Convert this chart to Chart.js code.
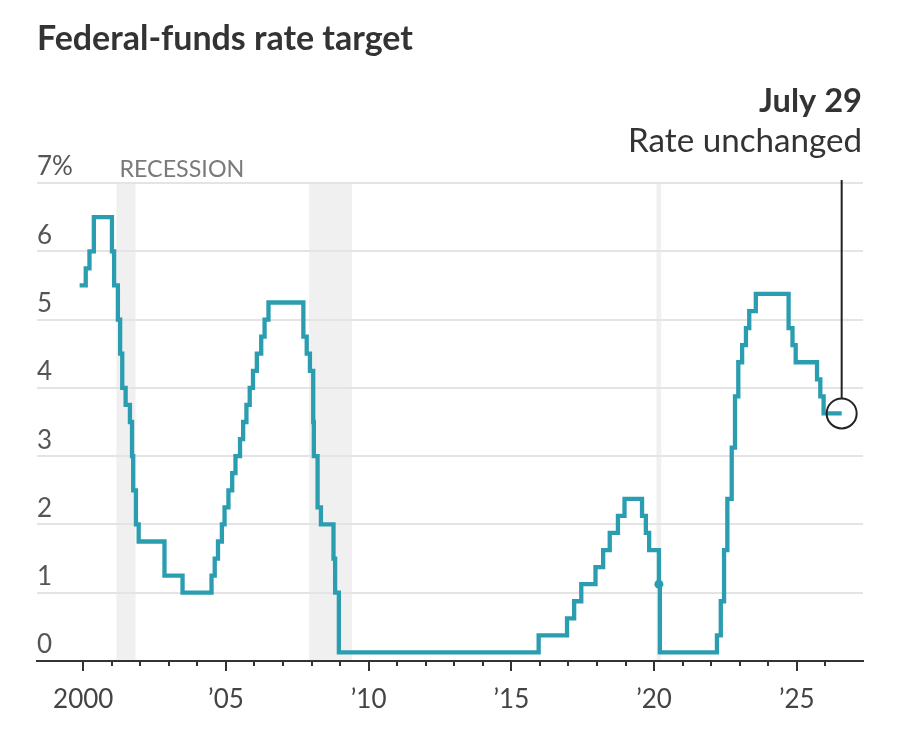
<!DOCTYPE html>
<html>
<head>
<meta charset="utf-8">
<script src="https://cdn.jsdelivr.net/npm/chart.js@4.4.1/dist/chart.umd.min.js"></script>
<style>
  html, body { margin: 0; padding: 0; background: #ffffff; }
  canvas { display: block; }
</style>
</head>
<body>
<canvas id="c" width="900" height="733"></canvas>
<script>
// ---------------- DATA ----------------
const changeDates = [
  '1999-11-16','2000-02-02','2000-03-21','2000-05-16',
  '2001-01-03','2001-01-31','2001-03-20','2001-04-18','2001-05-15','2001-06-27','2001-08-21','2001-09-17','2001-10-02','2001-11-06','2001-12-11',
  '2002-11-06','2003-06-25',
  '2004-06-30','2004-08-10','2004-09-21','2004-11-10','2004-12-14',
  '2005-02-02','2005-03-22','2005-05-03','2005-06-30','2005-08-09','2005-09-20','2005-11-01','2005-12-13',
  '2006-01-31','2006-03-28','2006-05-10','2006-06-29',
  '2007-09-18','2007-10-31','2007-12-11',
  '2008-01-22','2008-01-30','2008-03-18','2008-04-30','2008-10-08','2008-10-29','2008-12-16',
  '2015-12-16','2016-12-14',
  '2017-03-15','2017-06-14','2017-12-13',
  '2018-03-21','2018-06-13','2018-09-26','2018-12-19',
  '2019-07-31','2019-09-18','2019-10-30',
  '2020-03-03','2020-03-15',
  '2022-03-16','2022-05-04','2022-06-15','2022-07-27','2022-09-21','2022-11-02','2022-12-14',
  '2023-02-01','2023-03-22','2023-05-03','2023-07-26',
  '2024-09-18','2024-11-07','2024-12-18',
  '2025-09-17','2025-10-29','2025-12-10',
  '2026-07-29'
];
const targetRates = [
  5.5, 5.75, 6.0, 6.5,
  6.0, 5.5, 5.0, 4.5, 4.0, 3.75, 3.5, 3.0, 2.5, 2.0, 1.75,
  1.25, 1.0,
  1.25, 1.5, 1.75, 2.0, 2.25,
  2.5, 2.75, 3.0, 3.25, 3.5, 3.75, 4.0, 4.25,
  4.5, 4.75, 5.0, 5.25,
  4.75, 4.5, 4.25,
  3.5, 3.0, 2.25, 2.0, 1.5, 1.0, 0.125,
  0.375, 0.625,
  0.875, 1.125, 1.375,
  1.625, 1.875, 2.125, 2.375,
  2.125, 1.875, 1.625,
  1.125, 0.125,
  0.375, 0.875, 1.625, 2.375, 3.125, 3.875, 4.375,
  4.625, 4.875, 5.125, 5.375,
  4.875, 4.625, 4.375,
  4.125, 3.875, 3.625,
  3.625
];
const recessionStarts = ['2001-03-01', '2007-12-01', '2020-02-01'];
const recessionEnds   = ['2001-11-01', '2009-06-01', '2020-04-01'];
const markedDate = '2020-03-03';

const yTickValues = [0, 1, 2, 3, 4, 5, 6, 7];
const yTickLabels = ['0', '1', '2', '3', '4', '5', '6', '7%'];
const xTickYears = [2000,2001,2002,2003,2004,2005,2006,2007,2008,2009,2010,2011,2012,2013,2014,2015,2016,2017,2018,2019,2020,2021,2022,2023,2024,2025,2026];
const xTickLabels = ['2000','','','','','\u201905','','','','','\u201910','','','','','\u201915','','','','','\u201920','','','','','\u201925',''];
const majorYears = [2000, 2005, 2010, 2015, 2020, 2025];

const titleText = 'Federal-funds rate target';
const recessionText = 'RECESSION';
const noteHead = 'July 29';
const noteBody = 'Rate unchanged';

// ---------------- HELPERS ----------------
function toYear(s) {
  const d = new Date(s + 'T00:00:00Z');
  const y = d.getUTCFullYear();
  const a = Date.UTC(y, 0, 1), b = Date.UTC(y + 1, 0, 1);
  return y + (d.getTime() - a) / (b - a);
}
const points = changeDates.map((d, i) => ({ x: toYear(d), y: targetRates[i] }));

const FONT = 'Lato';
const LINE = '#2b9db0';

function fitText(ctx, text, weight, targetWidth) {
  ctx.font = weight + ' 100px ' + FONT;
  const w = ctx.measureText(text).width;
  return 100 * targetWidth / w;
}

const overlay = {
  id: 'overlay',
  beforeDraw(chart) {
    const { ctx, chartArea, scales: { x } } = chart;
    ctx.save();
    ctx.fillStyle = '#f0f0f0';
    recessionStarts.forEach((s, i) => {
      const x0 = x.getPixelForValue(toYear(s));
      const x1 = x.getPixelForValue(toYear(recessionEnds[i]));
      ctx.fillRect(x0, chartArea.top, x1 - x0, chartArea.bottom - chartArea.top);
    });
    ctx.restore();
  },
  afterDraw(chart) {
    const { ctx, chartArea, scales: { x, y } } = chart;
    ctx.save();
    // x tick marks
    ctx.strokeStyle = '#333';
    ctx.lineWidth = 2;
    xTickYears.forEach(v => {
      const px = Math.round(x.getPixelForValue(v));
      const len = majorYears.includes(v) ? 10 : 5;
      ctx.beginPath();
      ctx.moveTo(px, chartArea.bottom);
      ctx.lineTo(px, chartArea.bottom + len);
      ctx.stroke();
    });
    // recession label
    const rx = x.getPixelForValue(toYear(recessionStarts[0]));
    const rs = fitText(ctx, recessionText, 'normal', 125);
    ctx.font = 'normal ' + rs + 'px ' + FONT;
    ctx.fillStyle = '#7a7a7a';
    ctx.textAlign = 'left';
    ctx.textBaseline = 'alphabetic';
    ctx.fillText(recessionText, rx + 3, chartArea.top - 6);

    // annotation leader + circle
    const last = points[points.length - 1];
    const cx = x.getPixelForValue(last.x);
    const cy = y.getPixelForValue(last.y);
    const r = 15;
    ctx.strokeStyle = '#222';
    ctx.lineWidth = 2;
    ctx.beginPath();
    ctx.moveTo(cx, chartArea.top - 3);
    ctx.lineTo(cx, cy - r);
    ctx.stroke();
    ctx.beginPath();
    ctx.arc(cx, cy, r, 0, Math.PI * 2);
    ctx.stroke();

    // title
    const ts = fitText(ctx, titleText, 'bold', 376);
    ctx.font = 'bold ' + ts + 'px ' + FONT;
    ctx.fillStyle = '#333';
    ctx.textAlign = 'left';
    ctx.fillText(titleText, 37, 50);

    // note
    const hs = fitText(ctx, noteHead, 'bold', 103);
    ctx.font = 'bold ' + hs + 'px ' + FONT;
    ctx.textAlign = 'right';
    ctx.fillText(noteHead, 862, 112);
    const bs = fitText(ctx, noteBody, 'normal', 234);
    ctx.font = 'normal ' + bs + 'px ' + FONT;
    ctx.fillText(noteBody, 862, 152);
    ctx.restore();
  }
};

new Chart(document.getElementById('c'), {
  type: 'line',
  data: {
    datasets: [{
      data: points,
      stepped: 'before',
      borderColor: LINE,
      backgroundColor: LINE,
      borderWidth: 4.3,
      borderJoinStyle: 'miter',
      borderCapStyle: 'butt',
      fill: false,
      pointRadius: c => (changeDates[c.dataIndex] === markedDate ? 4.5 : 0),
      pointBorderWidth: 0,
      pointHoverRadius: 0,
      pointBackgroundColor: LINE
    }]
  },
  options: {
    responsive: false,
    animation: false,
    events: [],
    layout: { padding: { top: 183, left: 37, right: 37, bottom: 0 }, autoPadding: false },
    plugins: { legend: { display: false }, tooltip: { enabled: false }, title: { display: false } },
    scales: {
      x: {
        type: 'linear',
        min: 1998.38,
        max: 2027.32,
        afterBuildTicks: s => { s.ticks = xTickYears.map(v => ({ value: v })); },
        afterFit: s => { s.height = 72; },
        grid: { display: false, drawTicks: false },
        border: { display: true, color: '#333', width: 2 },
        ticks: {
          autoSkip: false, maxRotation: 0, minRotation: 0, padding: 23,
          color: '#444', font: { family: FONT, size: 26 },
          callback: (v) => xTickLabels[xTickYears.indexOf(v)]
        }
      },
      y: {
        min: 0, max: 7,
        afterBuildTicks: s => { s.ticks = yTickValues.map(v => ({ value: v })); },
        grid: {
          color: c => (c.tick && c.tick.value === 0 ? 'rgba(0,0,0,0)' : '#e4e4e4'),
          lineWidth: 2, drawTicks: false
        },
        border: { display: false },
        ticks: {
          mirror: true, padding: 0, labelOffset: -16,
          color: '#555', font: { family: FONT, size: 26 },
          callback: (v) => yTickLabels[yTickValues.indexOf(v)]
        }
      }
    }
  },
  plugins: [overlay]
});
</script>
</body>
</html>
